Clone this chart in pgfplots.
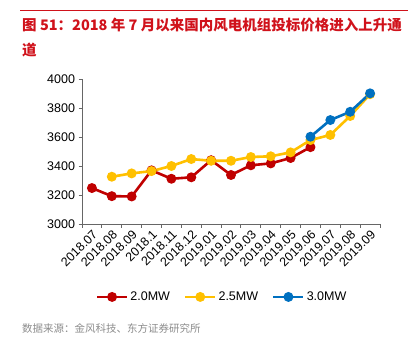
\documentclass[border=0pt]{standalone}
\usepackage{pgfplots}
\pgfplotsset{compat=1.18}
\usepackage{fontspec}
\setmainfont{Liberation Sans}
\newfontfamily\cjk{Noto Sans CJK SC}
\definecolor{cred}{HTML}{C00000}
\definecolor{cyel}{HTML}{FFC000}
\definecolor{cblu}{HTML}{0070C0}
\definecolor{ttl}{HTML}{D0121B}
\begin{document}
\begin{tikzpicture}
\useasboundingbox (0pt,0pt) rectangle (417pt,356pt);
\draw[ttl, line width=0.8pt] (20pt,346pt) -- (408pt,346pt);
\node[anchor=west, inner sep=0pt, text=ttl, font=\fontsize{14.5}{16}\selectfont\cjk\bfseries] at (22pt,331pt) {图 51：2018 年 7 月以来国内风电机组投标价格进入上升通};
\node[anchor=west, inner sep=0pt, text=ttl, font=\fontsize{14.5}{16}\selectfont\cjk\bfseries] at (22pt,306pt) {道};
\node[anchor=west, inner sep=0pt, text=black!45, font=\fontsize{10.5}{12}\selectfont\cjk] at (22pt,28pt) {数据来源：金风科技、东方证券研究所};
\begin{axis}[
  at={(82pt,132pt)}, anchor=south west,
  width=298pt, height=145pt, scale only axis,
  xmin=-0.5, xmax=14.5, ymin=3000, ymax=4000,
  ytick={3000,3200,...,4000},
  xtick={0,...,14},
  xticklabels={2018.07,2018.08,2018.09,2018.1,2018.11,2018.12,2019.01,2019.02,2019.03,2019.04,2019.05,2019.06,2019.07,2019.08,2019.09},
  minor xtick={-0.5,0.5,...,14.5},
  major x tick style={draw=none},
  axis lines*=left,
  axis line style={black!60, line width=0.9pt},
  tick style={black!60, line width=0.9pt},
  tick align=outside,
  major tick length=3.5pt, minor tick length=3.5pt,
  xticklabel style={rotate=45, anchor=north east, inner sep=1pt, font=\fontsize{12.5}{14}\selectfont},
  yticklabel style={font=\fontsize{12.5}{14}\selectfont},
  /pgf/number format/assume math mode=true,
  /pgf/number format/1000 sep={},
  scaled ticks=false,
  clip=false,
  every axis plot/.append style={line width=2.6pt, mark=*, mark size=3.6pt},
  legend style={at={(0.47,-0.503)}, anchor=center, draw=none, fill=none, legend columns=3,
    font=\fontsize{12.5}{14}\selectfont, /tikz/every even column/.append style={column sep=12pt}},
  legend image code/.code={\draw[mark repeat=2,mark phase=2] plot coordinates {(0pt,0pt)(15pt,0pt)(30pt,0pt)};},
]
\addplot[cred, mark options={fill=cred}] coordinates {(0,3248)(1,3192)(2,3190)(3,3370)(4,3312)(5,3322)(6,3440)(7,3338)(8,3405)(9,3418)(10,3455)(11,3530)};
\addlegendentry{2.0MW}
\addplot[cyel, mark options={fill=cyel}] coordinates {(1,3326)(2,3349)(3,3365)(4,3400)(5,3448)(6,3436)(7,3436)(8,3462)(9,3467)(10,3494)(11,3579)(12,3614)(13,3745)(14,3895)};
\addlegendentry{2.5MW}
\addplot[cblu, mark options={fill=cblu}] coordinates {(11,3602)(12,3717)(13,3774)(14,3901)};
\addlegendentry{3.0MW}
\end{axis}
\end{tikzpicture}
\end{document}
